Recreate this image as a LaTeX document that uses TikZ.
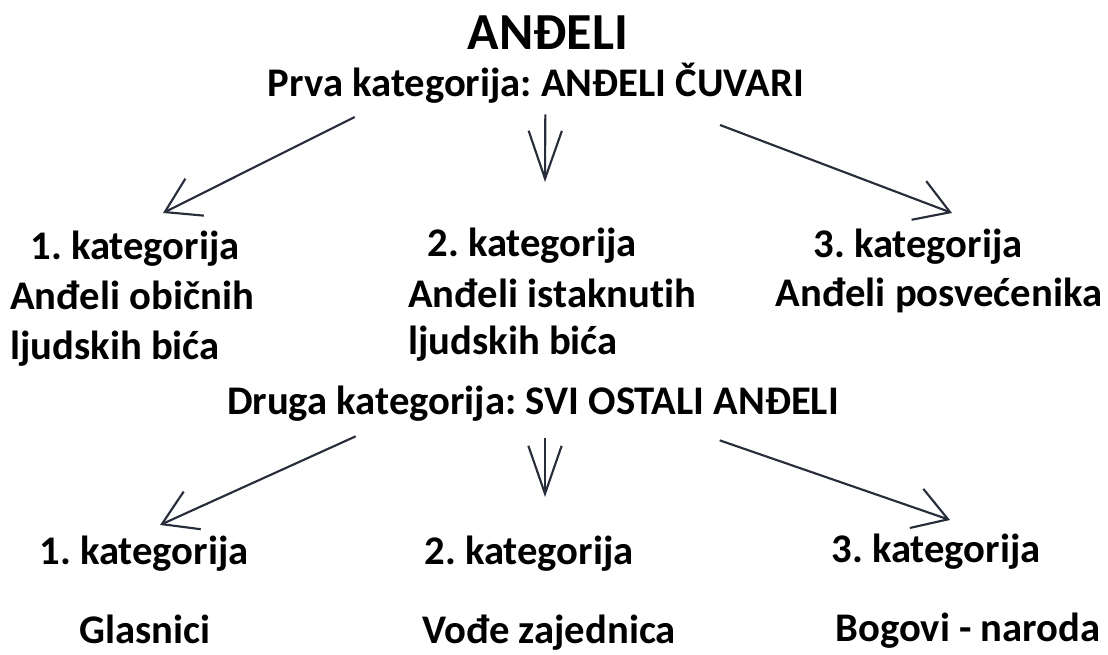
\documentclass[tikz,border=0pt]{standalone}
\usepackage{fontspec}
\setmainfont{Carlito}[Ligatures=NoCommon]
\frenchspacing
\usetikzlibrary{arrows.meta}
\definecolor{strelica}{RGB}{40,45,60}

\begin{document}
\begin{tikzpicture}[x=0.75pt,y=-0.75pt,
  txt/.style={inner sep=0pt,anchor=base,font=\fontsize{30.5}{36}\selectfont\bfseries},
  txtl/.style={txt,anchor=base west},
  naslov/.style={inner sep=0pt,anchor=base,font=\fontsize{39}{46}\selectfont\bfseries},
  strel/.style={strelica,line width=1.6pt,-{Straight Barb[length=25pt,width=31pt,line width=1.6pt]}},
  strelv/.style={strel,-{Straight Barb[length=36pt,width=25pt,line width=1.6pt]}}]
\useasboundingbox (0,0) rectangle (1108,655); % frame of the picture

% naslov
\node[naslov] (andeli) at (548,50) {ANĐELI};
\node[txt] (prva) at (536,97) {Prva kategorija: ANĐELI ČUVARI};

% prva kategorija
\node[txt] (k11) at (135,260) {1. kategorija};
\node[txtl] (k11a) at (10,310) {Anđeli običnih};
\node[txtl] (k11b) at (10,360) {ljudskih bića};
\node[txt] (k12) at (532,257) {2. kategorija};
\node[txtl] (k12a) at (408,308) {Anđeli istaknutih};
\node[txtl] (k12b) at (408,355) {ljudskih bića};
\node[txt] (k13) at (918,258) {3. kategorija};
\node[txt] (k13a) at (939,307) {Anđeli posvećenika};

% druga kategorija
\node[txt] (druga) at (533,415) {Druga kategorija: SVI OSTALI ANĐELI};
\node[txt] (k21) at (144,565) {1. kategorija};
\node[txt] (k22) at (529,565) {2. kategorija};
\node[txt] (k23) at (936,563) {3. kategorija};
\node[txt] (k21a) at (145,644) {Glasnici};
\node[txt] (k22a) at (549,644) {Vođe zajednica};
\node[txt] (k23a) at (968,642) {Bogovi - naroda};

% krajevi strelica
\coordinate (v11) at (163,213);
\coordinate (v12) at (545,182);
\coordinate (v13) at (952,213);
\coordinate (v21) at (160,525);
\coordinate (v22) at (545,497);
\coordinate (v23) at (950,520);

\draw[strel] ([xshift=-136pt,yshift=-15pt]prva.base) -- (v11);
\draw[strelv] ([xshift=7pt,yshift=-13pt]prva.base) -- (v12);
\draw[strel] ([xshift=138pt,yshift=-21pt]prva.base) -- (v13);
\draw[strel] ([xshift=-133pt,yshift=-16pt]druga.base) -- (v21);
\draw[strelv] ([xshift=9pt,yshift=-17pt]druga.base) -- (v22);
\draw[strel] ([xshift=140pt,yshift=-19pt]druga.base) -- (v23);
\end{tikzpicture}
\end{document}
